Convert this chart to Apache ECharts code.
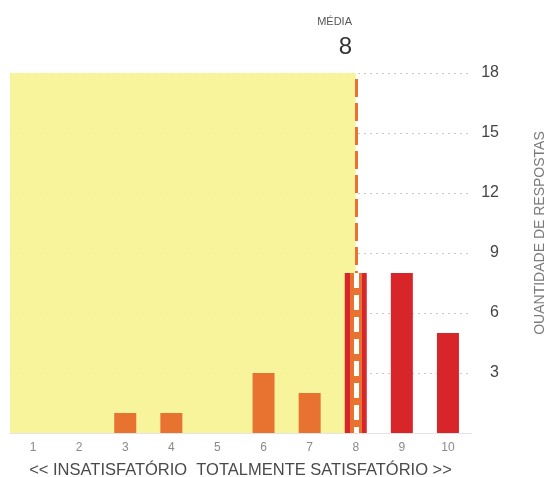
<!DOCTYPE html>
<html>
<head>
<meta charset="utf-8">
<script src="https://cdn.jsdelivr.net/npm/echarts@6/dist/echarts.min.js"></script>
<style>
html,body{margin:0;padding:0;background:#fff;}
#chart{width:544px;height:477px;}
</style>
</head>
<body>
<div id="chart"></div>
<script>
// ---- data ----
var categories = ['1','2','3','4','5','6','7','8','9','10'];
var counts = [0, 0, 1, 1, 0, 3, 2, 8, 8, 5];
var yMin = 0, yMax = 18, yStep = 3;
var xAxisTitle = '<< INSATISFATÓRIO  TOTALMENTE SATISFATÓRIO >>';
var yAxisTitle = 'QUANTIDADE DE RESPOSTAS';
var meanLabel = 'MÉDIA';

// mean score computed from the counts
var total = 0, weighted = 0;
counts.forEach(function (c, i) { total += c; weighted += c * Number(categories[i]); });
var mean = Math.round(weighted / total);

var ORANGE = '#e8722f', RED = '#d8252a', YELLOW = '#f8f395';

var chart = echarts.init(document.getElementById('chart'), null, {renderer: 'canvas'});
chart.setOption({
  animation: false,
  backgroundColor: '#ffffff',
  grid: {left: 10, right: 73, top: 73, bottom: 44, outerBoundsMode: 'none', containLabel: false},
  xAxis: [{
    type: 'category',
    data: categories,
    boundaryGap: true,
    axisTick: {show: false},
    axisLine: {show: true, lineStyle: {color: '#e4e4e4', width: 1}},
    axisLabel: {color: '#8a8a8a', fontSize: 12, margin: 9, fontFamily: 'Liberation Sans'},
    name: xAxisTitle,
    nameLocation: 'middle',
    nameGap: 29,
    nameTextStyle: {color: '#4a4a4a', fontSize: 16.5, fontFamily: 'Liberation Sans'}
  }, {
    type: 'value', min: 0.5, max: 10.5, show: false
  }],
  yAxis: [{
    type: 'value',
    position: 'right',
    min: yMin, max: yMax, interval: yStep,
    axisLine: {show: false},
    axisTick: {show: false},
    splitLine: {show: true, lineStyle: {color: '#c9c9c9', type: [2, 4], width: 1}},
    axisLabel: {
      color: '#444', fontSize: 16, align: 'right', margin: 28,
      fontFamily: 'Liberation Sans', padding: [0, 0, 12, 0],
      formatter: function (v) { return v === 0 ? '' : String(v); }
    },
    name: yAxisTitle,
    nameLocation: 'middle',
    nameRotate: 90,
    nameGap: 62,
    nameTextStyle: {color: '#7a7a7a', fontSize: 14, fontFamily: 'Liberation Sans', padding: [0, 0, 0, 40]}
  }],
  series: [{
    type: 'line',
    xAxisIndex: 1, yAxisIndex: 0,
    data: [],
    z: 1,
    silent: true,
    markArea: {
      silent: true,
      itemStyle: {color: YELLOW, opacity: 0.93},
      data: [[{xAxis: 0.5, yAxis: yMax}, {xAxis: mean, yAxis: yMin}]]
    }
  }, {
    type: 'bar',
    xAxisIndex: 0, yAxisIndex: 0,
    z: 3,
    barWidth: 22,
    data: counts,
    itemStyle: {
      color: function (p) { return Number(categories[p.dataIndex]) >= mean ? RED : ORANGE; }
    }
  }, {
    type: 'line',
    xAxisIndex: 1, yAxisIndex: 0,
    data: [],
    z: 5,
    silent: true,
    markLine: {
      silent: true,
      symbol: ['none', 'none'],
      label: {show: false},
      data: [
        [{coord: [mean, yMax - 0.3], lineStyle: {color: ORANGE, width: 3, type: [18, 6]}},
         {coord: [mean, counts[mean - 1]]}],
        [{coord: [mean, counts[mean - 1]], lineStyle: {color: ORANGE, width: 12, type: 'solid'}},
         {coord: [mean, yMin]}],
        [{coord: [mean, counts[mean - 1]], lineStyle: {color: '#ffffff', width: 5, type: [15, 7]}},
         {coord: [mean, yMin]}]
      ]
    }
  }],
  graphic: [
    {type: 'text', x: 352, y: 22, style: {text: meanLabel, fontSize: 11, fill: '#555', align: 'right', verticalAlign: 'middle', fontFamily: 'Liberation Sans'}},
    {type: 'text', x: 352, y: 47, style: {text: String(mean), fontSize: 24, fill: '#333', align: 'right', verticalAlign: 'middle', fontFamily: 'Liberation Sans'}}
  ]
});
</script>
</body>
</html>
